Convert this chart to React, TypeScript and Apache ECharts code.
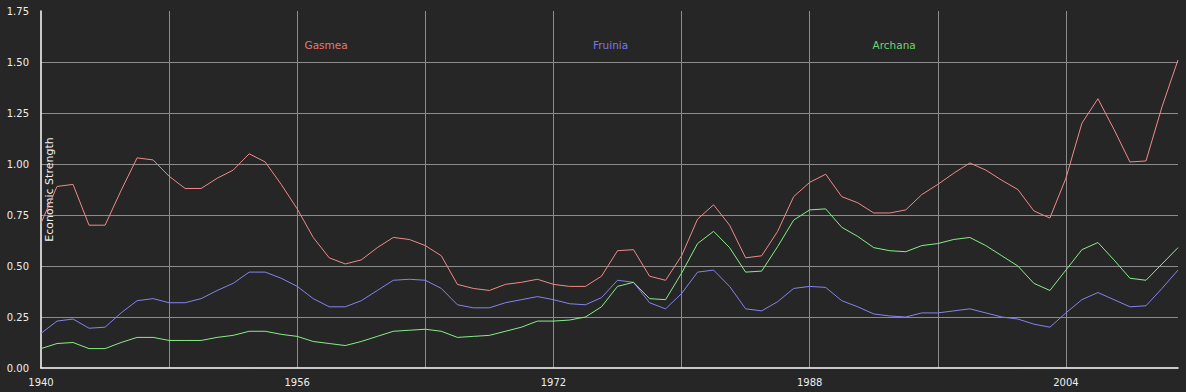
import React, { useEffect, useRef } from "react";
import * as echarts from "echarts";

const years = [
  1940, 1941, 1942, 1943, 1944, 1945, 1946, 1947, 1948, 1949,
  1950, 1951, 1952, 1953, 1954, 1955, 1956, 1957, 1958, 1959,
  1960, 1961, 1962, 1963, 1964, 1965, 1966, 1967, 1968, 1969,
  1970, 1971, 1972, 1973, 1974, 1975, 1976, 1977, 1978, 1979,
  1980, 1981, 1982, 1983, 1984, 1985, 1986, 1987, 1988, 1989,
  1990, 1991, 1992, 1993, 1994, 1995, 1996, 1997, 1998, 1999,
  2000, 2001, 2002, 2003, 2004, 2005, 2006, 2007, 2008, 2009,
  2010, 2011,
];

const gasmea = [
  0.71, 0.89, 0.9, 0.7, 0.7, 0.87, 1.03, 1.02, 0.94, 0.88,
  0.88, 0.93, 0.97, 1.05, 1.01, 0.9, 0.78, 0.64, 0.54, 0.51,
  0.53, 0.59, 0.64, 0.63, 0.6, 0.55, 0.41, 0.39, 0.38, 0.41,
  0.42, 0.435, 0.41, 0.4, 0.4, 0.45, 0.575, 0.58, 0.45, 0.43,
  0.55, 0.73, 0.8, 0.7, 0.54, 0.55, 0.67, 0.84, 0.91, 0.95,
  0.84, 0.81, 0.76, 0.76, 0.775, 0.85, 0.9, 0.955, 1.005, 0.97,
  0.92, 0.875, 0.77, 0.735, 0.93, 1.2, 1.32, 1.17, 1.01, 1.015,
  1.28, 1.51,
];

const fruinia = [
  0.17, 0.23, 0.24, 0.195, 0.2, 0.27, 0.33, 0.34, 0.32, 0.32,
  0.34, 0.38, 0.415, 0.47, 0.47, 0.44, 0.4, 0.34, 0.3, 0.3,
  0.33, 0.38, 0.43, 0.435, 0.43, 0.39, 0.31, 0.295, 0.295, 0.32,
  0.335, 0.35, 0.335, 0.315, 0.31, 0.345, 0.43, 0.42, 0.32, 0.29,
  0.365, 0.47, 0.48, 0.4, 0.29, 0.28, 0.325, 0.39, 0.4, 0.395,
  0.33, 0.3, 0.265, 0.255, 0.25, 0.27, 0.27, 0.28, 0.29, 0.27,
  0.25, 0.24, 0.215, 0.2, 0.27, 0.335, 0.37, 0.335, 0.3, 0.305,
  0.39, 0.48,
];

const archana = [
  0.095, 0.12, 0.125, 0.095, 0.095, 0.125, 0.15, 0.15, 0.135, 0.135,
  0.135, 0.15, 0.16, 0.18, 0.18, 0.165, 0.155, 0.13, 0.12, 0.11,
  0.13, 0.155, 0.18, 0.185, 0.19, 0.18, 0.15, 0.155, 0.16, 0.18,
  0.2, 0.23, 0.23, 0.235, 0.25, 0.3, 0.4, 0.42, 0.34, 0.335,
  0.465, 0.61, 0.67, 0.59, 0.47, 0.475, 0.595, 0.725, 0.775, 0.78,
  0.69, 0.645, 0.59, 0.575, 0.57, 0.6, 0.61, 0.63, 0.64, 0.6,
  0.55, 0.5, 0.415, 0.38, 0.48, 0.58, 0.615, 0.53, 0.44, 0.43,
  0.51, 0.59,
];

const seriesNames = ["Gasmea", "Fruinia", "Archana"];
const seriesColors = ["#f08a8a", "#8484ee", "#86ee86"];
const legendColors = ["#e07878", "#7a7ae0", "#6cd46c"];
const legendCenters = [326, 611, 894];
const legendWidths = [43, 36, 43];

export default function App() {
  const ref = useRef<HTMLDivElement>(null);
  useEffect(() => {
    if (!ref.current) return;
    const chart = echarts.init(ref.current, null, { renderer: "svg" });
    const values = [gasmea, fruinia, archana];
    const font = "DejaVu Sans";
    chart.setOption({
      animation: false,
      backgroundColor: "#262626",
      textStyle: { fontFamily: font },
      grid: {
        left: 41,
        right: 8,
        top: 11,
        bottom: 24,
        containLabel: false,
        outerBoundsMode: "none",
      },
      legend: seriesNames.map((n, i) => ({
        data: [n],
        icon: "none",
        itemWidth: 0,
        itemHeight: 10,
        padding: 0,
        top: 39,
        left: legendCenters[i] - legendWidths[i] / 2 - 5,
        selectedMode: false,
        textStyle: { color: legendColors[i], fontSize: 10.5, fontFamily: font },
      })),
      xAxis: {
        type: "value",
        min: 1940,
        max: 2011,
        interval: 8,
        axisLine: { show: true, lineStyle: { color: "#ffffff", width: 1.5 } },
        axisTick: { show: false },
        axisLabel: {
          color: "#eeeeee",
          fontSize: 10,
          margin: 9,
          fontFamily: font,
          formatter: (v: number) => ((v - 1940) % 16 === 0 ? String(v) : ""),
        },
        splitLine: {
          show: true,
          showMinLine: false,
          showMaxLine: false,
          lineStyle: { color: "#8c8c8c", width: 1 },
        },
      },
      yAxis: {
        type: "value",
        min: 0,
        max: 1.75,
        interval: 0.25,
        name: "Economic Strength",
        nameLocation: "middle",
        nameRotate: 90,
        nameGap: -14,
        nameMoveOverlap: false,
        nameTextStyle: { color: "#eeeeee", fontSize: 11, fontFamily: font },
        axisLine: { show: true, lineStyle: { color: "#ffffff", width: 1.5 } },
        axisTick: { show: false },
        axisLabel: {
          color: "#eeeeee",
          fontSize: 10,
          margin: 12,
          fontFamily: font,
          formatter: (v: number) => v.toFixed(2),
        },
        splitLine: {
          show: true,
          showMinLine: false,
          showMaxLine: false,
          lineStyle: { color: "#8c8c8c", width: 1 },
        },
      },
      series: seriesNames.map((n, i) => ({
        name: n,
        type: "line",
        data: years.map((y, k) => [y, values[i][k]]),
        showSymbol: false,
        symbol: "none",
        color: seriesColors[i],
        lineStyle: { color: seriesColors[i], width: 1 },
      })),
    });
    return () => chart.dispose();
  }, []);
  return (
    <div
      ref={ref}
      style={{ position: "fixed", left: 0, top: 0, width: 1186, height: 392 }}
    />
  );
}
